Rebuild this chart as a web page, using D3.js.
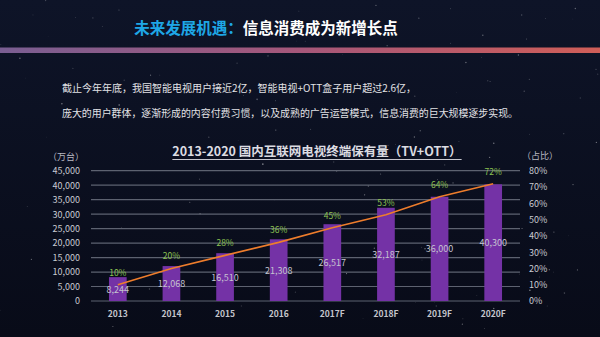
<!DOCTYPE html>
<html><head><meta charset="utf-8">
<script src="https://cdn.jsdelivr.net/npm/d3@7"></script>
<style>html,body{margin:0;padding:0;background:#0b1021;overflow:hidden}</style>
</head><body>
<svg id="c" width="600" height="337"></svg>
<script>
const years = ["2013","2014","2015","2016","2017F","2018F","2019F","2020F"];
const units = [8244,12068,16510,21308,26517,32187,36000,40300];
const shares = [10,20,28,36,45,53,64,72];
const leftTicks = [0,5000,10000,15000,20000,25000,30000,35000,40000,45000];
const rightTicks = [0,10,20,30,40,50,60,70,80];

const svg = d3.select("#c");
const W=600,H=337;
const defs = svg.append("defs");
const bg = defs.append("linearGradient").attr("id","bg").attr("x1",0).attr("y1",0).attr("x2",0).attr("y2",1);
bg.append("stop").attr("offset","0%").attr("stop-color","#0e1428");
bg.append("stop").attr("offset","100%").attr("stop-color","#080b18");
svg.append("rect").attr("width",W).attr("height",H).attr("fill","url(#bg)");

// decorative stars (deterministic)
let seed=7; const rnd=()=>{seed=(seed*16807)%2147483647;return seed/2147483647;};
const g0=svg.append("g");
for(let i=0;i<140;i++){g0.append("circle").attr("cx",rnd()*W).attr("cy",rnd()*H).attr("r",0.3+rnd()*0.5).attr("fill","#fff").attr("opacity",0.15+rnd()*0.35);}

const font="'Noto Sans CJK SC','Noto Sans',sans-serif";
// header
const ht = svg.append("text").attr("x",266).attr("y",34).attr("text-anchor","middle")
  .attr("font-family",font).attr("font-weight","bold").attr("font-size",15.5);
ht.append("tspan").attr("fill","#1ea7e6").text("未来发展机遇：");
ht.append("tspan").attr("fill","#ffffff").text("信息消费成为新增长点");
const hg = defs.append("linearGradient").attr("id","hg");
hg.append("stop").attr("offset","0%").attr("stop-color","#7a5e92");
hg.append("stop").attr("offset","50%").attr("stop-color","#a6577a");
hg.append("stop").attr("offset","100%").attr("stop-color","#d05e58");
svg.append("rect").attr("x",0).attr("y",47.5).attr("width",W).attr("height",5.5).attr("fill","url(#hg)");

svg.append("text").attr("x",62).attr("y",92).attr("font-family",font).attr("font-size",10).attr("fill","#e2e2e6")
  .text("截止今年年底，我国智能电视用户接近2亿，智能电视+OTT盒子用户超过2.6亿，");
svg.append("text").attr("x",62).attr("y",117).attr("font-family",font).attr("font-size",10).attr("fill","#e2e2e6")
  .attr("textLength",456).attr("lengthAdjust","spacingAndGlyphs")
  .text("庞大的用户群体，逐渐形成的内容付费习惯，以及成熟的广告运营模式，信息消费的巨大规模逐步实现。");

// chart
const x0=91,x1=520,yb=301,yt=170.7;
const x = d3.scaleBand().domain(years).range([x0,x1]).paddingInner(0.67).paddingOuter(0.335);
const xc = d3.scalePoint().domain(years).range([x0,x1]).padding(0.5);
const yL = d3.scaleLinear().domain([0,45000]).range([yb,yt]);
const yR = d3.scaleLinear().domain([0,80]).range([yb,yt]);

// title
const tt = svg.append("text").attr("x",317).attr("y",156).attr("text-anchor","middle")
  .attr("font-family",font).attr("font-weight","bold").attr("font-size",12.5).attr("fill","#dcdce2")
  .text("2013-2020 国内互联网电视终端保有量（TV+OTT）");
const bb = tt.node().getBBox();
svg.append("line").attr("x1",bb.x).attr("x2",bb.x+bb.width).attr("y1",159.5).attr("y2",159.5).attr("stroke","#c8c8d0").attr("stroke-width",1);

// grid
svg.append("g").selectAll("line").data(leftTicks).join("line")
  .attr("x1",x0).attr("x2",x1).attr("y1",d=>yL(d)).attr("y2",d=>yL(d))
  .attr("stroke","#5d6270").attr("stroke-width",1.2);

// left axis
const la = svg.append("g").attr("transform",`translate(${x0-2},0)`)
  .call(d3.axisLeft(yL).tickValues(leftTicks).tickSize(0).tickPadding(9).tickFormat(d3.format(",")));
la.select(".domain").remove();
la.selectAll("text").attr("font-family",font).attr("font-size",9).attr("fill","#c9cad2");
const ra = svg.append("g").attr("transform",`translate(${x1},0)`)
  .call(d3.axisRight(yR).tickValues(rightTicks).tickSize(0).tickPadding(9).tickFormat(d=>d+"%"));
ra.select(".domain").remove();
ra.selectAll("text").attr("font-family",font).attr("font-size",9).attr("fill","#c9cad2");

svg.append("text").attr("x",66).attr("y",160).attr("text-anchor","middle").attr("font-family",font).attr("font-size",9).attr("fill","#b8b9c2").text("（万台）");
svg.append("text").attr("x",540).attr("y",159).attr("text-anchor","middle").attr("font-family",font).attr("font-size",9).attr("fill","#b8b9c2").text("（占比）");

// bars
svg.append("g").selectAll("rect").data(units).join("rect")
  .attr("x",(d,i)=>x(years[i])).attr("width",x.bandwidth())
  .attr("y",d=>yL(d)).attr("height",d=>yb-yL(d)).attr("fill","#7432a6");

// x labels
svg.append("g").selectAll("text").data(years).join("text")
  .attr("x",d=>xc(d)).attr("y",317).attr("text-anchor","middle")
  .attr("font-family",font).attr("font-weight","bold").attr("font-size",8.5).attr("fill","#c4c5cc").text(d=>d);

// line
svg.append("path").datum(shares).attr("fill","none").attr("stroke","#ee7d2c").attr("stroke-width",1.6)
  .attr("d",d3.line().x((d,i)=>xc(years[i])).y(d=>yR(d)));

// value labels
svg.append("g").selectAll("text").data(units).join("text")
  .attr("x",(d,i)=>xc(years[i])).attr("y",d=>(yL(d)+yb)/2+3.5).attr("text-anchor","middle")
  .attr("font-family",font).attr("font-size",9).attr("fill","#c5c3d0").text(d=>d3.format(",")(d));

// pct labels
svg.append("g").selectAll("text").data(shares).join("text")
  .attr("x",(d,i)=>xc(years[i])).attr("y",d=>yR(d)-9).attr("text-anchor","middle")
  .attr("font-family",font).attr("font-size",8.5).attr("fill","#8cc152").text(d=>d+"%");
</script>
</body></html>
